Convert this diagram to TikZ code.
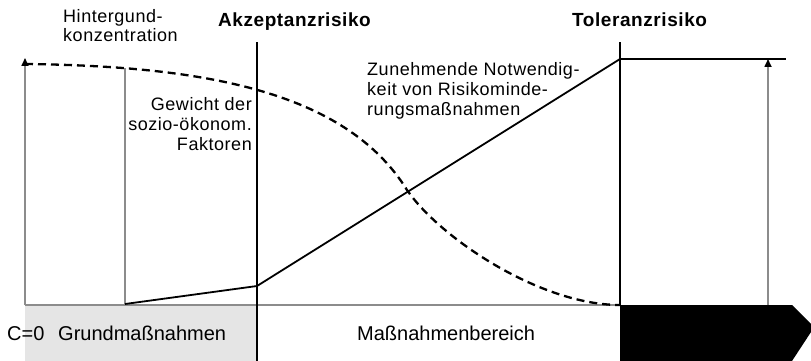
\documentclass[tikz,border=0pt]{standalone}
\usepackage{fontspec}
\setmainfont{Liberation Sans}
\usetikzlibrary{arrows.meta}
\newfontfamily\boldlbl[LetterSpace=3]{Liberation Sans Bold}
\newfontfamily\reglbl[LetterSpace=3]{Liberation Sans}
\tikzset{
  grayline/.style={draw=black!45, line width=1.6pt},
  blackline/.style={draw=black, line width=1.3pt},
  curveline/.style={draw=black, line width=1.8pt, line join=round},
  dashcurve/.style={draw=black, line width=2.3pt, dash pattern=on 8pt off 5pt},
  tip/.style={-{Triangle[width=7pt,length=8pt,color=black]}},
  lbl/.style={inner sep=0pt, font=\reglbl\fontsize{18}{20}\selectfont},
  head/.style={inner sep=0pt, font=\boldlbl\fontsize{19}{21}\selectfont},
  bottomlbl/.style={inner sep=0pt, font=\fontsize{20}{22}\selectfont}
}
\begin{document}
\begin{tikzpicture}[x=1pt,y=-1pt]
\useasboundingbox (0,0) rectangle (811,361);
% bands
\fill[black!10] (25,305) rectangle (257,361);
\coordinate (b1) at (620,305);
\coordinate (b2) at (792,305);
\coordinate (b3) at (811,324);
\coordinate (b4) at (811,332);
\coordinate (b5) at (792,361);
\coordinate (b6) at (620,361);
\fill[black] (b1) -- (b2) -- (b3) -- (b4) -- (b5) -- (b6) -- cycle;
% key points
\coordinate (o) at (25,305);
\coordinate (otop) at (25,58);
\coordinate (h0) at (125,305);
\coordinate (htop) at (125,68);
\coordinate (abot) at (257,361);
\coordinate (atop) at (257,42);
\coordinate (tbot) at (620,305);
\coordinate (ttop) at (620,42);
\coordinate (rbot) at (768,305);
\coordinate (rtop) at (768,59);
\coordinate (tl) at (620,59);
\coordinate (tr) at (786,59);
\coordinate (s1) at (125,304);
\coordinate (s2) at (257,286);
\coordinate (d0) at (25,64);
\coordinate (dm) at (407,190);
\coordinate (d1) at (620,305);
% baseline and verticals
\draw[grayline] (o) -- (tbot);
\draw[grayline,tip] (o) -- (otop);
\draw[grayline] (h0) -- (htop);
\draw[grayline,tip] (rbot) -- (rtop);
\draw[blackline] (abot) -- (atop);
\draw[blackline] (tbot) -- (ttop);
\draw[draw=black,line width=2.2pt] (tl) -- (tr);
% solid curve
\draw[curveline] (s1) -- (s2) -- (tl);
% dashed curve
\draw[dashcurve] (d0) .. controls (200,66) and (345,90) .. (dm)
  .. controls (440,238) and (540,305) .. (d1);
% labels
\node[lbl,anchor=base west,align=left] (hk) at (63,42) {Hintergund-\\konzentration};
\node[head,anchor=base west] (ak) at (218,27) {Akzeptanzrisiko};
\node[head,anchor=base west] (tk) at (572,27) {Toleranzrisiko};
\node[lbl,anchor=base west,align=left] (zn) at (367,115) {Zunehmende Notwendig-\\keit von Risikominde-\\rungsmaßnahmen};
\node[lbl,anchor=base east,align=right] (gw) at (252,150) {Gewicht der\\sozio-ökonom.\\Faktoren};
\node[bottomlbl,anchor=base west] (c0) at (7,340) {C=0};
\node[bottomlbl,anchor=base west] (gm) at (58,340) {Grundmaßnahmen};
\node[bottomlbl,anchor=base west] (mb) at (357,340) {Maßnahmenbereich};
\end{tikzpicture}
\end{document}
